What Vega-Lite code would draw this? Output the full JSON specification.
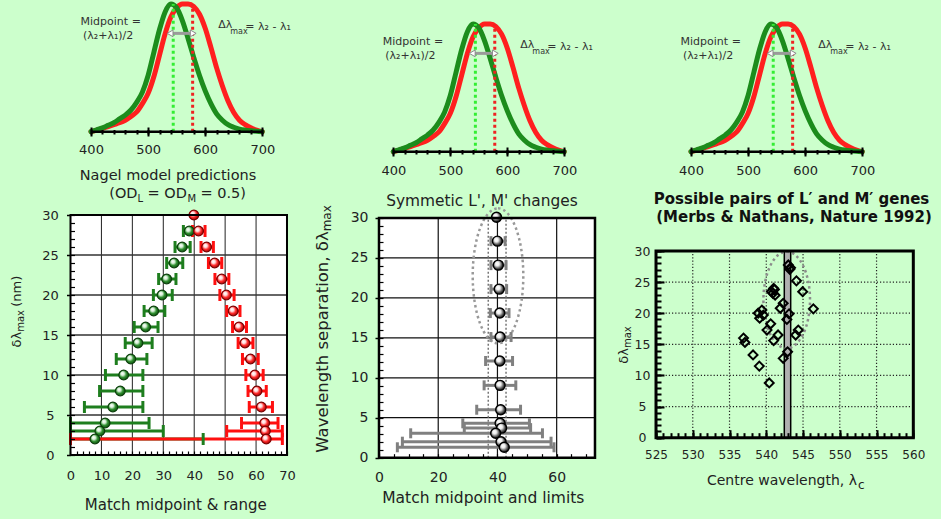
{
"$schema": "https://vega.github.io/schema/vega-lite/v6.json",
"width": 941, "height": 519, "autosize": "none", "padding": 0,
"background": "#ccffcc",
"config": {"view": {"stroke": null}, "font": "DejaVu Sans", "axis": {"domain": false, "grid": false, "labelColor": "#222222", "tickColor": "#000000", "labelFont": "DejaVu Sans"}},
"datasets": {
"one": [{}],
"spectra": [
{"nm":400,"M":0,"L":0},{"nm":410,"M":0.015,"L":0.012},{"nm":420,"M":0.03,"L":0.025},{"nm":430,"M":0.05,"L":0.04},{"nm":440,"M":0.07,"L":0.055},{"nm":450,"M":0.1,"L":0.07},{"nm":460,"M":0.13,"L":0.09},{"nm":470,"M":0.17,"L":0.12},{"nm":480,"M":0.23,"L":0.155},{"nm":490,"M":0.31,"L":0.22},{"nm":500,"M":0.44,"L":0.3},{"nm":510,"M":0.62,"L":0.43},{"nm":520,"M":0.8,"L":0.6},{"nm":530,"M":0.94,"L":0.77},{"nm":540,"M":1.0,"L":0.9},{"nm":550,"M":0.97,"L":0.97},{"nm":560,"M":0.87,"L":1.0},{"nm":570,"M":0.73,"L":1.0},{"nm":580,"M":0.58,"L":0.98},{"nm":590,"M":0.44,"L":0.92},{"nm":600,"M":0.32,"L":0.81},{"nm":610,"M":0.22,"L":0.66},{"nm":620,"M":0.14,"L":0.5},{"nm":630,"M":0.09,"L":0.36},{"nm":640,"M":0.055,"L":0.24},{"nm":650,"M":0.035,"L":0.15},{"nm":660,"M":0.02,"L":0.09},{"nm":670,"M":0.012,"L":0.055},{"nm":680,"M":0.007,"L":0.03},{"nm":690,"M":0.003,"L":0.012},{"nm":700,"M":0,"L":0}],
"blGreen": [
{"d":28,"mid":38.4,"lo":36.5,"hi":39.5},{"d":26,"mid":36.1,"lo":33.8,"hi":38.7},{"d":24,"mid":33.5,"lo":31.1,"hi":36.3},{"d":22,"mid":31.1,"lo":28.5,"hi":34.1},{"d":20,"mid":29.6,"lo":26.8,"hi":32.9},{"d":18,"mid":26.9,"lo":23.8,"hi":30.5},{"d":16,"mid":24.3,"lo":20.6,"hi":28.3},{"d":14,"mid":21.8,"lo":17.7,"hi":26.4},{"d":12,"mid":19.5,"lo":14.8,"hi":24.7},{"d":10,"mid":17.2,"lo":11.3,"hi":23.4},{"d":8,"mid":16.1,"lo":9.4,"hi":23.4},{"d":6,"mid":13.7,"lo":4.5,"hi":23.4},{"d":4,"mid":11.2,"lo":0,"hi":25.4},{"d":3,"mid":9.5,"lo":0,"hi":30.0},{"d":2,"mid":7.9,"lo":0,"hi":42.9}],
"blRed": [
{"d":30,"mid":39.9,"lo":null,"hi":null},{"d":28,"mid":41.4,"lo":39.5,"hi":43.5},{"d":26,"mid":44.0,"lo":42.2,"hi":46.2},{"d":24,"mid":46.6,"lo":44.6,"hi":48.9},{"d":22,"mid":48.9,"lo":46.7,"hi":51.2},{"d":20,"mid":50.4,"lo":48.3,"hi":52.9},{"d":18,"mid":52.6,"lo":50.5,"hi":54.8},{"d":16,"mid":54.5,"lo":52.4,"hi":56.9},{"d":14,"mid":56.4,"lo":54.2,"hi":59.0},{"d":12,"mid":58.2,"lo":55.6,"hi":60.7},{"d":10,"mid":59.6,"lo":56.7,"hi":62.3},{"d":8,"mid":60.3,"lo":57.4,"hi":63.3},{"d":6,"mid":61.7,"lo":57.8,"hi":65.3},{"d":4,"mid":62.8,"lo":55.3,"hi":67.1},{"d":3,"mid":63.0,"lo":50.5,"hi":68.5},{"d":2,"mid":63.3,"lo":0,"hi":68.5}],
"bm": [
{"d":30.1,"mid":39.7,"lo":null,"hi":null},{"d":27.1,"mid":40.0,"lo":37.8,"hi":42.6},{"d":24.1,"mid":40.3,"lo":37.8,"hi":42.9},{"d":21.1,"mid":40.6,"lo":37.8,"hi":43.1},{"d":18.1,"mid":40.8,"lo":37.6,"hi":43.9},{"d":15.1,"mid":40.9,"lo":37.8,"hi":44.6},{"d":12.1,"mid":40.8,"lo":36.0,"hi":45.1},{"d":9.05,"mid":40.9,"lo":35.5,"hi":46.2},{"d":6.0,"mid":41.1,"lo":33.0,"hi":47.8},{"d":4.3,"mid":40.9,"lo":28.3,"hi":50.8},{"d":3.7,"mid":41.4,"lo":28.8,"hi":51.2},{"d":3.05,"mid":39.4,"lo":10.7,"hi":55.2},{"d":2.0,"mid":41.2,"lo":7.9,"hi":58.1},{"d":1.3,"mid":42.3,"lo":6.2,"hi":59.1}],
"br": [
{"c":543.0,"s":27.75},{"c":543.2,"s":27.05},{"c":543.3,"s":27.3},{"c":544.1,"s":25.2},{"c":544.95,"s":23.46},{"c":546.4,"s":20.7},{"c":541.0,"s":24.0},{"c":541.1,"s":23.8},{"c":540.7,"s":23.5},{"c":541.2,"s":22.9},{"c":540.9,"s":23.2},{"c":542.3,"s":21.6},{"c":541.9,"s":20.8},{"c":543.1,"s":19.9},{"c":542.8,"s":19.0},{"c":539.4,"s":20.5},{"c":538.9,"s":20.0},{"c":539.6,"s":19.7},{"c":539.1,"s":19.2},{"c":540.6,"s":18.3},{"c":540.1,"s":17.3},{"c":541.6,"s":16.5},{"c":541.0,"s":15.6},{"c":544.35,"s":17.3},{"c":544.0,"s":16.5},{"c":536.9,"s":16.0},{"c":537.1,"s":15.3},{"c":538.2,"s":13.3},{"c":539.05,"s":11.5},{"c":540.4,"s":8.8},{"c":542.9,"s":13.8},{"c":542.3,"s":12.75}]
},
"layer": [
{
"layer": [
{"data": {"name": "spectra"}, "mark": {"type": "line", "color": "#ff1f1f", "strokeWidth": 5, "interpolate": "monotone", "strokeCap": "round"},
 "encoding": {"x": {"field": "nm", "type": "quantitative", "scale": {"domain": [240.63, 1888.6]}, "axis": null}, "y": {"field": "L", "type": "quantitative", "scale": {"domain": [-3.0329, 1.0313]}, "axis": null}}},
{"data": {"name": "spectra"}, "mark": {"type": "line", "color": "#1c8c1c", "strokeWidth": 5, "interpolate": "monotone", "strokeCap": "round"},
 "encoding": {"x": {"field": "nm", "type": "quantitative", "scale": {"domain": [240.63, 1888.6]}, "axis": {"orient": "bottom", "offset": -389.5, "values": [400,420,440,460,480,500,520,540,560,580,600,620,640,660,680,700], "tickSize": 4.5, "tickWidth": 2, "labels": false, "title": null, "zindex": 1}}, "y": {"field": "M", "type": "quantitative", "scale": {"domain": [-3.0329, 1.0313]}, "axis": null}}},
{"data": {"name": "one"}, "mark": {"type": "rule", "color": "#33ee33", "strokeWidth": 3, "strokeDash": [3, 3]},
 "encoding": {"x": {"datum": 544, "type": "quantitative", "scale": {"domain": [240.63, 1888.6]}, "axis": null}, "y": {"datum": 0, "type": "quantitative", "scale": {"domain": [-3.0329, 1.0313]}, "axis": null}, "y2": {"datum": 1}}},
{"data": {"name": "one"}, "mark": {"type": "rule", "color": "#ee2222", "strokeWidth": 3, "strokeDash": [3, 3]},
 "encoding": {"x": {"datum": 578, "type": "quantitative", "scale": {"domain": [240.63, 1888.6]}, "axis": null}, "y": {"datum": 0, "type": "quantitative", "scale": {"domain": [-3.0329, 1.0313]}, "axis": null}, "y2": {"datum": 1}}},
{"data": {"name": "one"}, "mark": {"type": "rule", "color": "#9a9a9a", "strokeWidth": 3},
 "encoding": {"x": {"datum": 540, "type": "quantitative", "scale": {"domain": [240.63, 1888.6]}, "axis": null}, "x2": {"datum": 576}, "y": {"datum": 0.77, "type": "quantitative", "scale": {"domain": [-3.0329, 1.0313]}, "axis": null}}},
{"data": {"name": "one"}, "mark": {"type": "point", "shape": "triangle-left", "filled": true, "fill": "#ffffff", "stroke": "#8a8a8a", "strokeWidth": 1, "size": 45, "opacity": 1},
 "encoding": {"x": {"datum": 538.5, "type": "quantitative", "scale": {"domain": [240.63, 1888.6]}, "axis": null}, "y": {"datum": 0.77, "type": "quantitative", "scale": {"domain": [-3.0329, 1.0313]}, "axis": null}}},
{"data": {"name": "one"}, "mark": {"type": "point", "shape": "triangle-right", "filled": true, "fill": "#ffffff", "stroke": "#8a8a8a", "strokeWidth": 1, "size": 45, "opacity": 1},
 "encoding": {"x": {"datum": 579, "type": "quantitative", "scale": {"domain": [240.63, 1888.6]}, "axis": null}, "y": {"datum": 0.77, "type": "quantitative", "scale": {"domain": [-3.0329, 1.0313]}, "axis": null}}},
{"data": {"name": "one"}, "mark": {"type": "rule", "color": "#000000", "strokeWidth": 2.5},
 "encoding": {"x": {"datum": 400, "type": "quantitative", "scale": {"domain": [240.63, 1888.6]}, "axis": {"orient": "bottom", "offset": -392, "values": [400,500,600,700], "tickSize": 9, "tickWidth": 2, "labelPadding": 13, "labelBaseline": "middle", "labelFontSize": 13, "title": null, "zindex": 1}}, "x2": {"datum": 700}, "y": {"datum": 0, "type": "quantitative", "scale": {"domain": [-3.0329, 1.0313]}, "axis": null}}},
{"data": {"name": "one"}, "mark": {"type": "text", "text": "Midpoint =", "fontSize": 11, "color": "#333333", "align": "center", "baseline": "middle"},
 "encoding": {"x": {"datum": 434.5, "type": "quantitative", "scale": {"domain": [240.63, 1888.6]}, "axis": null}, "y": {"datum": 0.857, "type": "quantitative", "scale": {"domain": [-3.0329, 1.0313]}, "axis": null}}},
{"data": {"name": "one"}, "mark": {"type": "text", "text": "(λ₂+λ₁)/2", "fontSize": 11, "color": "#333333", "align": "center", "baseline": "middle"},
 "encoding": {"x": {"datum": 430, "type": "quantitative", "scale": {"domain": [240.63, 1888.6]}, "axis": null}, "y": {"datum": 0.753, "type": "quantitative", "scale": {"domain": [-3.0329, 1.0313]}, "axis": null}}},
{"data": {"name": "one"}, "mark": {"type": "text", "text": "Δλ", "fontSize": 11, "color": "#333333", "align": "right", "baseline": "middle", "dy": -1},
 "encoding": {"x": {"datum": 647.5, "type": "quantitative", "scale": {"domain": [240.63, 1888.6]}, "axis": null}, "y": {"datum": 0.828, "type": "quantitative", "scale": {"domain": [-3.0329, 1.0313]}, "axis": null}}},
{"data": {"name": "one"}, "mark": {"type": "text", "text": "max", "fontSize": 8, "color": "#333333", "align": "left", "baseline": "middle", "dx": -2, "dy": 6},
 "encoding": {"x": {"datum": 647.5, "type": "quantitative", "scale": {"domain": [240.63, 1888.6]}, "axis": null}, "y": {"datum": 0.828, "type": "quantitative", "scale": {"domain": [-3.0329, 1.0313]}, "axis": null}}},
{"data": {"name": "one"}, "mark": {"type": "text", "text": "= λ₂ - λ₁", "fontSize": 11, "color": "#333333", "align": "left", "baseline": "middle", "dx": 13, "dy": 1},
 "encoding": {"x": {"datum": 647.5, "type": "quantitative", "scale": {"domain": [240.63, 1888.6]}, "axis": null}, "y": {"datum": 0.828, "type": "quantitative", "scale": {"domain": [-3.0329, 1.0313]}, "axis": null}}}
],
"resolve": {"axis": {"x": "independent", "y": "independent"}}
},
{
"layer": [
{"data": {"name": "spectra"}, "mark": {"type": "line", "color": "#ff1f1f", "strokeWidth": 5, "interpolate": "monotone", "strokeCap": "round"},
 "encoding": {"x": {"field": "nm", "type": "quantitative", "scale": {"domain": [-290.0, 1360.88]}, "axis": null}, "y": {"field": "L", "type": "quantitative", "scale": {"domain": [-2.8763, 1.1879]}, "axis": null}}},
{"data": {"name": "spectra"}, "mark": {"type": "line", "color": "#1c8c1c", "strokeWidth": 5, "interpolate": "monotone", "strokeCap": "round"},
 "encoding": {"x": {"field": "nm", "type": "quantitative", "scale": {"domain": [-290.0, 1360.88]}, "axis": {"orient": "bottom", "offset": -369.5, "values": [400,420,440,460,480,500,520,540,560,580,600,620,640,660,680,700], "tickSize": 4.5, "tickWidth": 2, "labels": false, "title": null, "zindex": 1}}, "y": {"field": "M", "type": "quantitative", "scale": {"domain": [-2.8763, 1.1879]}, "axis": null}}},
{"data": {"name": "one"}, "mark": {"type": "rule", "color": "#33ee33", "strokeWidth": 3, "strokeDash": [3, 3]},
 "encoding": {"x": {"datum": 544, "type": "quantitative", "scale": {"domain": [-290.0, 1360.88]}, "axis": null}, "y": {"datum": 0, "type": "quantitative", "scale": {"domain": [-2.8763, 1.1879]}, "axis": null}, "y2": {"datum": 1}}},
{"data": {"name": "one"}, "mark": {"type": "rule", "color": "#ee2222", "strokeWidth": 3, "strokeDash": [3, 3]},
 "encoding": {"x": {"datum": 578, "type": "quantitative", "scale": {"domain": [-290.0, 1360.88]}, "axis": null}, "y": {"datum": 0, "type": "quantitative", "scale": {"domain": [-2.8763, 1.1879]}, "axis": null}, "y2": {"datum": 1}}},
{"data": {"name": "one"}, "mark": {"type": "rule", "color": "#9a9a9a", "strokeWidth": 3},
 "encoding": {"x": {"datum": 540, "type": "quantitative", "scale": {"domain": [-290.0, 1360.88]}, "axis": null}, "x2": {"datum": 576}, "y": {"datum": 0.77, "type": "quantitative", "scale": {"domain": [-2.8763, 1.1879]}, "axis": null}}},
{"data": {"name": "one"}, "mark": {"type": "point", "shape": "triangle-left", "filled": true, "fill": "#ffffff", "stroke": "#8a8a8a", "strokeWidth": 1, "size": 45, "opacity": 1},
 "encoding": {"x": {"datum": 538.5, "type": "quantitative", "scale": {"domain": [-290.0, 1360.88]}, "axis": null}, "y": {"datum": 0.77, "type": "quantitative", "scale": {"domain": [-2.8763, 1.1879]}, "axis": null}}},
{"data": {"name": "one"}, "mark": {"type": "point", "shape": "triangle-right", "filled": true, "fill": "#ffffff", "stroke": "#8a8a8a", "strokeWidth": 1, "size": 45, "opacity": 1},
 "encoding": {"x": {"datum": 579, "type": "quantitative", "scale": {"domain": [-290.0, 1360.88]}, "axis": null}, "y": {"datum": 0.77, "type": "quantitative", "scale": {"domain": [-2.8763, 1.1879]}, "axis": null}}},
{"data": {"name": "one"}, "mark": {"type": "rule", "color": "#000000", "strokeWidth": 2.5},
 "encoding": {"x": {"datum": 400, "type": "quantitative", "scale": {"domain": [-290.0, 1360.88]}, "axis": {"orient": "bottom", "offset": -372, "values": [400,500,600,700], "tickSize": 9, "tickWidth": 2, "labelPadding": 14, "labelBaseline": "middle", "labelFontSize": 13, "title": null, "zindex": 1}}, "x2": {"datum": 700}, "y": {"datum": 0, "type": "quantitative", "scale": {"domain": [-2.8763, 1.1879]}, "axis": null}}},
{"data": {"name": "one"}, "mark": {"type": "text", "text": "Midpoint =", "fontSize": 11, "color": "#333333", "align": "center", "baseline": "middle"},
 "encoding": {"x": {"datum": 434.5, "type": "quantitative", "scale": {"domain": [-290.0, 1360.88]}, "axis": null}, "y": {"datum": 0.857, "type": "quantitative", "scale": {"domain": [-2.8763, 1.1879]}, "axis": null}}},
{"data": {"name": "one"}, "mark": {"type": "text", "text": "(λ₂+λ₁)/2", "fontSize": 11, "color": "#333333", "align": "center", "baseline": "middle"},
 "encoding": {"x": {"datum": 430, "type": "quantitative", "scale": {"domain": [-290.0, 1360.88]}, "axis": null}, "y": {"datum": 0.753, "type": "quantitative", "scale": {"domain": [-2.8763, 1.1879]}, "axis": null}}},
{"data": {"name": "one"}, "mark": {"type": "text", "text": "Δλ", "fontSize": 11, "color": "#333333", "align": "right", "baseline": "middle", "dy": -1},
 "encoding": {"x": {"datum": 647.5, "type": "quantitative", "scale": {"domain": [-290.0, 1360.88]}, "axis": null}, "y": {"datum": 0.828, "type": "quantitative", "scale": {"domain": [-2.8763, 1.1879]}, "axis": null}}},
{"data": {"name": "one"}, "mark": {"type": "text", "text": "max", "fontSize": 8, "color": "#333333", "align": "left", "baseline": "middle", "dx": -2, "dy": 6},
 "encoding": {"x": {"datum": 647.5, "type": "quantitative", "scale": {"domain": [-290.0, 1360.88]}, "axis": null}, "y": {"datum": 0.828, "type": "quantitative", "scale": {"domain": [-2.8763, 1.1879]}, "axis": null}}},
{"data": {"name": "one"}, "mark": {"type": "text", "text": "= λ₂ - λ₁", "fontSize": 11, "color": "#333333", "align": "left", "baseline": "middle", "dx": 13, "dy": 1},
 "encoding": {"x": {"datum": 647.5, "type": "quantitative", "scale": {"domain": [-290.0, 1360.88]}, "axis": null}, "y": {"datum": 0.828, "type": "quantitative", "scale": {"domain": [-2.8763, 1.1879]}, "axis": null}}}
],
"resolve": {"axis": {"x": "independent", "y": "independent"}}
},
{
"layer": [
{"data": {"name": "spectra"}, "mark": {"type": "line", "color": "#ff1f1f", "strokeWidth": 5, "interpolate": "monotone", "strokeCap": "round"},
 "encoding": {"x": {"field": "nm", "type": "quantitative", "scale": {"domain": [-810.16, 837.82]}, "axis": null}, "y": {"field": "L", "type": "quantitative", "scale": {"domain": [-2.8763, 1.1879]}, "axis": null}}},
{"data": {"name": "spectra"}, "mark": {"type": "line", "color": "#1c8c1c", "strokeWidth": 5, "interpolate": "monotone", "strokeCap": "round"},
 "encoding": {"x": {"field": "nm", "type": "quantitative", "scale": {"domain": [-810.16, 837.82]}, "axis": {"orient": "bottom", "offset": -369.5, "values": [400,420,440,460,480,500,520,540,560,580,600,620,640,660,680,700], "tickSize": 4.5, "tickWidth": 2, "labels": false, "title": null, "zindex": 1}}, "y": {"field": "M", "type": "quantitative", "scale": {"domain": [-2.8763, 1.1879]}, "axis": null}}},
{"data": {"name": "one"}, "mark": {"type": "rule", "color": "#33ee33", "strokeWidth": 3, "strokeDash": [3, 3]},
 "encoding": {"x": {"datum": 544, "type": "quantitative", "scale": {"domain": [-810.16, 837.82]}, "axis": null}, "y": {"datum": 0, "type": "quantitative", "scale": {"domain": [-2.8763, 1.1879]}, "axis": null}, "y2": {"datum": 1}}},
{"data": {"name": "one"}, "mark": {"type": "rule", "color": "#ee2222", "strokeWidth": 3, "strokeDash": [3, 3]},
 "encoding": {"x": {"datum": 578, "type": "quantitative", "scale": {"domain": [-810.16, 837.82]}, "axis": null}, "y": {"datum": 0, "type": "quantitative", "scale": {"domain": [-2.8763, 1.1879]}, "axis": null}, "y2": {"datum": 1}}},
{"data": {"name": "one"}, "mark": {"type": "rule", "color": "#9a9a9a", "strokeWidth": 3},
 "encoding": {"x": {"datum": 540, "type": "quantitative", "scale": {"domain": [-810.16, 837.82]}, "axis": null}, "x2": {"datum": 576}, "y": {"datum": 0.77, "type": "quantitative", "scale": {"domain": [-2.8763, 1.1879]}, "axis": null}}},
{"data": {"name": "one"}, "mark": {"type": "point", "shape": "triangle-left", "filled": true, "fill": "#ffffff", "stroke": "#8a8a8a", "strokeWidth": 1, "size": 45, "opacity": 1},
 "encoding": {"x": {"datum": 538.5, "type": "quantitative", "scale": {"domain": [-810.16, 837.82]}, "axis": null}, "y": {"datum": 0.77, "type": "quantitative", "scale": {"domain": [-2.8763, 1.1879]}, "axis": null}}},
{"data": {"name": "one"}, "mark": {"type": "point", "shape": "triangle-right", "filled": true, "fill": "#ffffff", "stroke": "#8a8a8a", "strokeWidth": 1, "size": 45, "opacity": 1},
 "encoding": {"x": {"datum": 579, "type": "quantitative", "scale": {"domain": [-810.16, 837.82]}, "axis": null}, "y": {"datum": 0.77, "type": "quantitative", "scale": {"domain": [-2.8763, 1.1879]}, "axis": null}}},
{"data": {"name": "one"}, "mark": {"type": "rule", "color": "#000000", "strokeWidth": 2.5},
 "encoding": {"x": {"datum": 400, "type": "quantitative", "scale": {"domain": [-810.16, 837.82]}, "axis": {"orient": "bottom", "offset": -372, "values": [400,500,600,700], "tickSize": 9, "tickWidth": 2, "labelPadding": 14, "labelBaseline": "middle", "labelFontSize": 13, "title": null, "zindex": 1}}, "x2": {"datum": 700}, "y": {"datum": 0, "type": "quantitative", "scale": {"domain": [-2.8763, 1.1879]}, "axis": null}}},
{"data": {"name": "one"}, "mark": {"type": "text", "text": "Midpoint =", "fontSize": 11, "color": "#333333", "align": "center", "baseline": "middle"},
 "encoding": {"x": {"datum": 434.5, "type": "quantitative", "scale": {"domain": [-810.16, 837.82]}, "axis": null}, "y": {"datum": 0.857, "type": "quantitative", "scale": {"domain": [-2.8763, 1.1879]}, "axis": null}}},
{"data": {"name": "one"}, "mark": {"type": "text", "text": "(λ₂+λ₁)/2", "fontSize": 11, "color": "#333333", "align": "center", "baseline": "middle"},
 "encoding": {"x": {"datum": 430, "type": "quantitative", "scale": {"domain": [-810.16, 837.82]}, "axis": null}, "y": {"datum": 0.753, "type": "quantitative", "scale": {"domain": [-2.8763, 1.1879]}, "axis": null}}},
{"data": {"name": "one"}, "mark": {"type": "text", "text": "Δλ", "fontSize": 11, "color": "#333333", "align": "right", "baseline": "middle", "dy": -1},
 "encoding": {"x": {"datum": 647.5, "type": "quantitative", "scale": {"domain": [-810.16, 837.82]}, "axis": null}, "y": {"datum": 0.828, "type": "quantitative", "scale": {"domain": [-2.8763, 1.1879]}, "axis": null}}},
{"data": {"name": "one"}, "mark": {"type": "text", "text": "max", "fontSize": 8, "color": "#333333", "align": "left", "baseline": "middle", "dx": -2, "dy": 6},
 "encoding": {"x": {"datum": 647.5, "type": "quantitative", "scale": {"domain": [-810.16, 837.82]}, "axis": null}, "y": {"datum": 0.828, "type": "quantitative", "scale": {"domain": [-2.8763, 1.1879]}, "axis": null}}},
{"data": {"name": "one"}, "mark": {"type": "text", "text": "= λ₂ - λ₁", "fontSize": 11, "color": "#333333", "align": "left", "baseline": "middle", "dx": 13, "dy": 1},
 "encoding": {"x": {"datum": 647.5, "type": "quantitative", "scale": {"domain": [-810.16, 837.82]}, "axis": null}, "y": {"datum": 0.828, "type": "quantitative", "scale": {"domain": [-2.8763, 1.1879]}, "axis": null}}}
],
"resolve": {"axis": {"x": "independent", "y": "independent"}}
},
{
"layer": [
{"data": {"name": "one"}, "mark": {"type": "rect", "fill": "#ffffff"},
 "encoding": {"x": {"datum": 0, "type": "quantitative", "scale": {"domain": [-22.794, 281.46]}, "axis": {"orient": "bottom", "offset": -64, "values": [0,10,20,30,40,50,60,70], "ticks": false, "labelPadding": 20, "labelBaseline": "middle", "labelFontSize": 13, "title": null, "zindex": 1}}, "x2": {"datum": 70},
  "y": {"datum": 0, "type": "quantitative", "scale": {"domain": [-8, 56.875]}, "axis": {"orient": "left", "offset": -70.5, "values": [0,5,10,15,20,25,30], "tickSize": 4, "tickWidth": 1.5, "labelPadding": 16.5, "labelAlign": "center", "labelFontSize": 13, "title": null, "zindex": 1}}, "y2": {"datum": 30}}},
{"data": {"values": [{"g":10},{"g":20},{"g":30},{"g":40},{"g":50},{"g":60}]}, "mark": {"type": "rule", "color": "#222222", "strokeWidth": 1},
 "encoding": {"x": {"field": "g", "type": "quantitative", "scale": {"domain": [-22.794, 281.46]}, "axis": {"orient": "bottom", "offset": -68, "values": [0,2,4,6,8,10,12,14,16,18,20,22,24,26,28,30,32,34,36,38,40,42,44,46,48,50,52,54,56,58,60,62,64,66,68,70], "tickSize": 4, "tickWidth": 1.2, "labels": false, "title": null, "zindex": 1}},
  "y": {"datum": 0, "type": "quantitative", "scale": {"domain": [-8, 56.875]}, "axis": null}, "y2": {"datum": 30}}},
{"data": {"values": [{"g":5},{"g":10},{"g":15},{"g":20},{"g":25}]}, "mark": {"type": "rule", "color": "#333333", "strokeWidth": 1.5},
 "encoding": {"y": {"field": "g", "type": "quantitative", "scale": {"domain": [-8, 56.875]}, "axis": {"orient": "left", "offset": -74.5, "values": [0,1,2,3,4,5,6,7,8,9,10,11,12,13,14,15,16,17,18,19,20,21,22,23,24,25,26,27,28,29,30], "tickSize": 4, "tickWidth": 1.2, "labels": false, "title": null, "zindex": 1}},
  "x": {"datum": 0, "type": "quantitative", "scale": {"domain": [-22.794, 281.46]}, "axis": null}, "x2": {"datum": 70}}},
{"data": {"name": "blGreen"}, "mark": {"type": "rule", "color": "#1e7e1e", "strokeWidth": 3},
 "encoding": {"x": {"field": "lo", "type": "quantitative", "scale": {"domain": [-22.794, 281.46]}, "axis": null}, "x2": {"field": "hi"}, "y": {"field": "d", "type": "quantitative", "scale": {"domain": [-8, 56.875]}, "axis": null}}},
{"data": {"name": "blRed"}, "mark": {"type": "rule", "color": "#ff1010", "strokeWidth": 3},
 "encoding": {"x": {"field": "lo", "type": "quantitative", "scale": {"domain": [-22.794, 281.46]}, "axis": null}, "x2": {"field": "hi"}, "y": {"field": "d", "type": "quantitative", "scale": {"domain": [-8, 56.875]}, "axis": null}}},
{"data": {"name": "blGreen"}, "transform": [{"fold": ["lo", "hi"], "as": ["end", "xv"]}], "mark": {"type": "tick", "orient": "vertical", "color": "#1e7e1e", "size": 12, "thickness": 3, "opacity": 1},
 "encoding": {"x": {"field": "xv", "type": "quantitative", "scale": {"domain": [-22.794, 281.46]}, "axis": null}, "y": {"field": "d", "type": "quantitative", "scale": {"domain": [-8, 56.875]}, "axis": null}}},
{"data": {"name": "blRed"}, "transform": [{"fold": ["lo", "hi"], "as": ["end", "xv"]}], "mark": {"type": "tick", "orient": "vertical", "color": "#ff1010", "size": 12, "thickness": 3, "opacity": 1},
 "encoding": {"x": {"field": "xv", "type": "quantitative", "scale": {"domain": [-22.794, 281.46]}, "axis": null}, "y": {"field": "d", "type": "quantitative", "scale": {"domain": [-8, 56.875]}, "axis": null}}},
{"data": {"name": "blGreen"}, "mark": {"type": "point", "filled": true, "opacity": 1, "size": 95, "stroke": "#0c3f0c", "strokeWidth": 1.2,
  "fill": {"gradient": "radial", "x1": 0.35, "y1": 0.32, "r1": 0, "x2": 0.45, "y2": 0.45, "r2": 0.6, "stops": [{"offset": 0, "color": "#ffffff"}, {"offset": 0.3, "color": "#d8efd8"}, {"offset": 0.6, "color": "#2f8f2f"}, {"offset": 1, "color": "#0b4a0b"}]}},
 "encoding": {"x": {"field": "mid", "type": "quantitative", "scale": {"domain": [-22.794, 281.46]}, "axis": null}, "y": {"field": "d", "type": "quantitative", "scale": {"domain": [-8, 56.875]}, "axis": null}}},
{"data": {"name": "blRed"}, "mark": {"type": "point", "filled": true, "opacity": 1, "size": 95, "stroke": "#7a0000", "strokeWidth": 1.2,
  "fill": {"gradient": "radial", "x1": 0.35, "y1": 0.32, "r1": 0, "x2": 0.45, "y2": 0.45, "r2": 0.6, "stops": [{"offset": 0, "color": "#ffffff"}, {"offset": 0.3, "color": "#ffe0e0"}, {"offset": 0.6, "color": "#ff2a2a"}, {"offset": 1, "color": "#900000"}]}},
 "encoding": {"x": {"field": "mid", "type": "quantitative", "scale": {"domain": [-22.794, 281.46]}, "axis": null}, "y": {"field": "d", "type": "quantitative", "scale": {"domain": [-8, 56.875]}, "axis": null}}},
{"data": {"name": "one"}, "mark": {"type": "rect", "fillOpacity": 0, "stroke": "#000000", "strokeWidth": 2},
 "encoding": {"x": {"datum": 0, "type": "quantitative", "scale": {"domain": [-22.794, 281.46]}, "axis": null}, "x2": {"datum": 70}, "y": {"datum": 0, "type": "quantitative", "scale": {"domain": [-8, 56.875]}, "axis": null}, "y2": {"datum": 30}}},
{"data": {"name": "one"}, "mark": {"type": "text", "text": "Nagel model predictions", "fontSize": 14.5, "color": "#222222", "align": "center", "baseline": "middle"},
 "encoding": {"x": {"datum": 31.52, "type": "quantitative", "scale": {"domain": [-22.794, 281.46]}, "axis": null}, "y": {"datum": 34.875, "type": "quantitative", "scale": {"domain": [-8, 56.875]}, "axis": null}}},
{"data": {"name": "one"}, "mark": {"type": "text", "text": "(OD", "fontSize": 14.5, "color": "#222222", "align": "right", "baseline": "middle"},
 "encoding": {"x": {"datum": 21.66, "type": "quantitative", "scale": {"domain": [-22.794, 281.46]}, "axis": null}, "y": {"datum": 32.65, "type": "quantitative", "scale": {"domain": [-8, 56.875]}, "axis": null}}},
{"data": {"name": "one"}, "mark": {"type": "text", "text": "L", "fontSize": 10, "color": "#222222", "align": "left", "baseline": "middle", "dy": 5},
 "encoding": {"x": {"datum": 21.66, "type": "quantitative", "scale": {"domain": [-22.794, 281.46]}, "axis": null}, "y": {"datum": 32.65, "type": "quantitative", "scale": {"domain": [-8, 56.875]}, "axis": null}}},
{"data": {"name": "one"}, "mark": {"type": "text", "text": "= OD", "fontSize": 14.5, "color": "#222222", "align": "left", "baseline": "middle", "dx": 10},
 "encoding": {"x": {"datum": 21.66, "type": "quantitative", "scale": {"domain": [-22.794, 281.46]}, "axis": null}, "y": {"datum": 32.65, "type": "quantitative", "scale": {"domain": [-8, 56.875]}, "axis": null}}},
{"data": {"name": "one"}, "mark": {"type": "text", "text": "M", "fontSize": 10, "color": "#222222", "align": "left", "baseline": "middle", "dx": 50, "dy": 5},
 "encoding": {"x": {"datum": 21.66, "type": "quantitative", "scale": {"domain": [-22.794, 281.46]}, "axis": null}, "y": {"datum": 32.65, "type": "quantitative", "scale": {"domain": [-8, 56.875]}, "axis": null}}},
{"data": {"name": "one"}, "mark": {"type": "text", "text": "= 0.5)", "fontSize": 14.5, "color": "#222222", "align": "left", "baseline": "middle", "dx": 63},
 "encoding": {"x": {"datum": 21.66, "type": "quantitative", "scale": {"domain": [-22.794, 281.46]}, "axis": null}, "y": {"datum": 32.65, "type": "quantitative", "scale": {"domain": [-8, 56.875]}, "axis": null}}},
{"data": {"name": "one"}, "mark": {"type": "text", "text": "Match midpoint & range", "fontSize": 15, "color": "#222222", "align": "center", "baseline": "middle"},
 "encoding": {"x": {"datum": 34.05, "type": "quantitative", "scale": {"domain": [-22.794, 281.46]}, "axis": null}, "y": {"datum": -6.25, "type": "quantitative", "scale": {"domain": [-8, 56.875]}, "axis": null}}},
{"data": {"name": "one"}, "mark": {"type": "text", "text": "δλ", "fontSize": 13, "color": "#222222", "align": "right", "baseline": "middle", "angle": 270},
 "encoding": {"x": {"datum": -17.2, "type": "quantitative", "scale": {"domain": [-22.794, 281.46]}, "axis": null}, "y": {"datum": 15.4, "type": "quantitative", "scale": {"domain": [-8, 56.875]}, "axis": null}}},
{"data": {"name": "one"}, "mark": {"type": "text", "text": "max", "fontSize": 10, "color": "#222222", "align": "left", "baseline": "middle", "angle": 270, "dy": 4},
 "encoding": {"x": {"datum": -17.2, "type": "quantitative", "scale": {"domain": [-22.794, 281.46]}, "axis": null}, "y": {"datum": 15.4, "type": "quantitative", "scale": {"domain": [-8, 56.875]}, "axis": null}}},
{"data": {"name": "one"}, "mark": {"type": "text", "text": "(nm)", "fontSize": 13, "color": "#222222", "align": "left", "baseline": "middle", "angle": 270, "dx": 25},
 "encoding": {"x": {"datum": -17.2, "type": "quantitative", "scale": {"domain": [-22.794, 281.46]}, "axis": null}, "y": {"datum": 15.4, "type": "quantitative", "scale": {"domain": [-8, 56.875]}, "axis": null}}}
],
"resolve": {"axis": {"x": "independent", "y": "independent"}}
},
{
"layer": [
{"data": {"name": "one"}, "mark": {"type": "rect", "fill": "#ffffff"},
 "encoding": {"x": {"datum": 0, "type": "quantitative", "scale": {"domain": [-127.99, 189.79]}, "axis": {"orient": "bottom", "offset": -61.33, "values": [0,20,40,60], "ticks": false, "labelPadding": 20, "labelBaseline": "middle", "labelFontSize": 14, "title": null, "zindex": 1}}, "x2": {"datum": 72.94},
  "y": {"datum": 0, "type": "quantitative", "scale": {"domain": [-7.677, 57.287]}, "axis": {"orient": "left", "offset": -379, "values": [0,5,10,15,20,25,30], "tickSize": 4, "tickWidth": 1.5, "labelPadding": 7, "labelAlign": "right", "labelFontSize": 14, "title": null, "zindex": 1}}, "y2": {"datum": 30}}},
{"data": {"values": [{"g":20},{"g":40},{"g":60}]}, "mark": {"type": "rule", "color": "#111111", "strokeWidth": 1.2},
 "encoding": {"x": {"field": "g", "type": "quantitative", "scale": {"domain": [-127.99, 189.79]}, "axis": {"orient": "bottom", "offset": -65.33, "values": [0,5,10,15,20,25,30,35,40,45,50,55,60,65,70], "tickSize": 4, "tickWidth": 1.2, "labels": false, "title": null, "zindex": 1}},
  "y": {"datum": 0, "type": "quantitative", "scale": {"domain": [-7.677, 57.287]}, "axis": null}, "y2": {"datum": 30}}},
{"data": {"values": [{"g":5},{"g":10},{"g":15},{"g":20},{"g":25}]}, "mark": {"type": "rule", "color": "#111111", "strokeWidth": 1.2},
 "encoding": {"y": {"field": "g", "type": "quantitative", "scale": {"domain": [-7.677, 57.287]}, "axis": {"orient": "left", "offset": -383, "values": [0,1,2,3,4,5,6,7,8,9,10,11,12,13,14,15,16,17,18,19,20,21,22,23,24,25,26,27,28,29,30], "tickSize": 4, "tickWidth": 1.2, "labels": false, "title": null, "zindex": 1}},
  "x": {"datum": 0, "type": "quantitative", "scale": {"domain": [-127.99, 189.79]}, "axis": null}, "x2": {"datum": 72.94}}},
{"data": {"values": [{"v":36.9},{"v":42.9}]}, "mark": {"type": "rule", "color": "#777777", "strokeWidth": 1.5, "strokeDash": [2, 2]},
 "encoding": {"x": {"field": "v", "type": "quantitative", "scale": {"domain": [-127.99, 189.79]}, "axis": null}, "y": {"datum": 0, "type": "quantitative", "scale": {"domain": [-7.677, 57.287]}, "axis": null}, "y2": {"datum": 30}}},
{"data": {"name": "bm"}, "mark": {"type": "rule", "color": "#808080", "strokeWidth": 3},
 "encoding": {"x": {"field": "lo", "type": "quantitative", "scale": {"domain": [-127.99, 189.79]}, "axis": null}, "x2": {"field": "hi"}, "y": {"field": "d", "type": "quantitative", "scale": {"domain": [-7.677, 57.287]}, "axis": null}}},
{"data": {"name": "bm"}, "transform": [{"fold": ["lo", "hi"], "as": ["end", "xv"]}], "mark": {"type": "tick", "orient": "vertical", "color": "#808080", "size": 10, "thickness": 3, "opacity": 1},
 "encoding": {"x": {"field": "xv", "type": "quantitative", "scale": {"domain": [-127.99, 189.79]}, "axis": null}, "y": {"field": "d", "type": "quantitative", "scale": {"domain": [-7.677, 57.287]}, "axis": null}}},
{"data": {"name": "bm"}, "mark": {"type": "point", "filled": true, "opacity": 1, "size": 100, "stroke": "#000000", "strokeWidth": 1.4,
  "fill": {"gradient": "radial", "x1": 0.35, "y1": 0.32, "r1": 0, "x2": 0.45, "y2": 0.45, "r2": 0.6, "stops": [{"offset": 0, "color": "#ffffff"}, {"offset": 0.35, "color": "#f0f0f0"}, {"offset": 0.7, "color": "#555555"}, {"offset": 1, "color": "#000000"}]}},
 "encoding": {"x": {"field": "mid", "type": "quantitative", "scale": {"domain": [-127.99, 189.79]}, "axis": null}, "y": {"field": "d", "type": "quantitative", "scale": {"domain": [-7.677, 57.287]}, "axis": null}}},
{"data": {"name": "one"}, "mark": {"type": "point", "filled": false, "opacity": 1, "stroke": "#999999", "strokeWidth": 2.5, "strokeDash": [2.5, 3], "size": 18225,
  "shape": "M 0 -1 C 0.207 -1 0.3748 -0.5523 0.3748 0 C 0.3748 0.5523 0.207 1 0 1 C -0.207 1 -0.3748 0.5523 -0.3748 0 C -0.3748 -0.5523 -0.207 -1 0 -1 Z"},
 "encoding": {"x": {"datum": 40.19, "type": "quantitative", "scale": {"domain": [-127.99, 189.79]}, "axis": null}, "y": {"datum": 22.76, "type": "quantitative", "scale": {"domain": [-7.677, 57.287]}, "axis": null}}},
{"data": {"name": "one"}, "mark": {"type": "rect", "fillOpacity": 0, "stroke": "#000000", "strokeWidth": 2.5},
 "encoding": {"x": {"datum": 0, "type": "quantitative", "scale": {"domain": [-127.99, 189.79]}, "axis": null}, "x2": {"datum": 72.94}, "y": {"datum": 0, "type": "quantitative", "scale": {"domain": [-7.677, 57.287]}, "axis": null}, "y2": {"datum": 30}}},
{"data": {"name": "one"}, "mark": {"type": "text", "text": "Symmetic L', M' changes", "fontSize": 15.4, "color": "#222222", "align": "center", "baseline": "middle"},
 "encoding": {"x": {"datum": 34.78, "type": "quantitative", "scale": {"domain": [-127.99, 189.79]}, "axis": null}, "y": {"datum": 32.19, "type": "quantitative", "scale": {"domain": [-7.677, 57.287]}, "axis": null}}},
{"data": {"name": "one"}, "mark": {"type": "text", "text": "Match midpoint and limits", "fontSize": 15.5, "color": "#222222", "align": "center", "baseline": "middle"},
 "encoding": {"x": {"datum": 35.22, "type": "quantitative", "scale": {"domain": [-127.99, 189.79]}, "axis": null}, "y": {"datum": -5.06, "type": "quantitative", "scale": {"domain": [-7.677, 57.287]}, "axis": null}}},
{"data": {"name": "one"}, "mark": {"type": "text", "text": "Wavelength separation,  δλ", "fontSize": 16.5, "color": "#222222", "align": "right", "baseline": "middle", "angle": 270},
 "encoding": {"x": {"datum": -18.9, "type": "quantitative", "scale": {"domain": [-127.99, 189.79]}, "axis": null}, "y": {"datum": 28.33, "type": "quantitative", "scale": {"domain": [-7.677, 57.287]}, "axis": null}}},
{"data": {"name": "one"}, "mark": {"type": "text", "text": "max", "fontSize": 12, "color": "#222222", "align": "left", "baseline": "middle", "angle": 270, "dy": 4},
 "encoding": {"x": {"datum": -18.9, "type": "quantitative", "scale": {"domain": [-127.99, 189.79]}, "axis": null}, "y": {"datum": 28.33, "type": "quantitative", "scale": {"domain": [-7.677, 57.287]}, "axis": null}}}
],
"resolve": {"axis": {"x": "independent", "y": "independent"}}
},
{
"layer": [
{"data": {"values": [{"g":530},{"g":535},{"g":540},{"g":545},{"g":550},{"g":555}]}, "mark": {"type": "rule", "color": "#222222", "strokeWidth": 1.2, "strokeDash": [1.2, 2]},
 "encoding": {"x": {"field": "g", "type": "quantitative", "scale": {"domain": [435.766, 563.766]}, "axis": {"orient": "bottom", "offset": -86.33, "values": [525,526,527,528,529,530,531,532,533,534,535,536,537,538,539,540,541,542,543,544,545,546,547,548,549,550,551,552,553,554,555,556,557,558,559,560], "tickSize": 5, "tickWidth": 2, "labels": false, "title": null, "zindex": 1}},
  "y": {"datum": 0, "type": "quantitative", "scale": {"domain": [-13.071, 70.339]}, "axis": null}, "y2": {"datum": 30}}},
{"data": {"values": [{"g":5},{"g":10},{"g":15},{"g":20},{"g":25}]}, "mark": {"type": "rule", "color": "#222222", "strokeWidth": 1.2, "strokeDash": [1.2, 2]},
 "encoding": {"y": {"field": "g", "type": "quantitative", "scale": {"domain": [-13.071, 70.339]}, "axis": {"orient": "left", "offset": -661, "values": [0,1,2,3,4,5,6,7,8,9,10,11,12,13,14,15,16,17,18,19,20,21,22,23,24,25,26,27,28,29,30], "tickSize": 5, "tickWidth": 2, "labels": false, "title": null, "zindex": 1}},
  "x": {"datum": 525, "type": "quantitative", "scale": {"domain": [435.766, 563.766]}, "axis": null}, "x2": {"datum": 560}}},
{"data": {"values": [{"lo": 542.45, "hi": 543.32}]}, "mark": {"type": "rect", "fill": "#b0b0b0", "stroke": "#000000", "strokeWidth": 1.5},
 "encoding": {"x": {"field": "lo", "type": "quantitative", "scale": {"domain": [435.766, 563.766]}, "axis": {"orient": "bottom", "offset": -89.33, "values": [525,530,535,540,545,550,555,560], "tickSize": 8, "tickWidth": 2, "labels": false, "title": null, "zindex": 1}}, "x2": {"field": "hi"},
  "y": {"datum": 0, "type": "quantitative", "scale": {"domain": [-13.071, 70.339]}, "axis": {"orient": "left", "offset": -664, "values": [0,5,10,15,20,25,30], "tickSize": 8, "tickWidth": 2, "labels": false, "title": null, "zindex": 1}}, "y2": {"datum": 30}}},
{"data": {"name": "one"}, "mark": {"type": "point", "filled": false, "opacity": 1, "stroke": "#8c8c8c", "strokeWidth": 2.5, "strokeDash": [2.5, 3], "size": 9332,
  "shape": "M 0 -1 C 0.2664 -1 0.4824 -0.5523 0.4824 0 C 0.4824 0.5523 0.2664 1 0 1 C -0.2664 1 -0.4824 0.5523 -0.4824 0 C -0.4824 -0.5523 -0.2664 -1 0 -1 Z"},
 "encoding": {"x": {"datum": 542.78, "type": "quantitative", "scale": {"domain": [435.766, 563.766]}, "axis": null}, "y": {"datum": 22.13, "type": "quantitative", "scale": {"domain": [-13.071, 70.339]}, "axis": null}}},
{"data": {"name": "br"}, "mark": {"type": "point", "shape": "diamond", "filled": false, "opacity": 1, "stroke": "#000000", "strokeWidth": 2, "size": 80},
 "encoding": {"x": {"field": "c", "type": "quantitative", "scale": {"domain": [435.766, 563.766]}, "axis": null}, "y": {"field": "s", "type": "quantitative", "scale": {"domain": [-13.071, 70.339]}, "axis": null}}},
{"data": {"name": "one"}, "mark": {"type": "rect", "fillOpacity": 0, "stroke": "#000000", "strokeWidth": 3},
 "encoding": {"x": {"datum": 525, "type": "quantitative", "scale": {"domain": [435.766, 563.766]}, "axis": {"orient": "bottom", "offset": -81.33, "values": [525,530,535,540,545,550,555,560], "ticks": false, "labelPadding": 17.3, "labelBaseline": "middle", "labelFontSize": 12, "title": null, "zindex": 1}}, "x2": {"datum": 560},
  "y": {"datum": 0, "type": "quantitative", "scale": {"domain": [-13.071, 70.339]}, "axis": {"orient": "left", "offset": -656, "values": [0,5,10,15,20,25,30], "ticks": false, "labelPadding": 14, "labelAlign": "center", "labelFontSize": 12.5, "title": null, "zindex": 1}}, "y2": {"datum": 30}}},
{"data": {"name": "one"}, "mark": {"type": "text", "text": "Possible pairs of L′ and M′ genes", "fontSize": 15, "fontWeight": "bold", "color": "#111111", "align": "center", "baseline": "middle"},
 "encoding": {"x": {"datum": 543.43, "type": "quantitative", "scale": {"domain": [435.766, 563.766]}, "axis": null}, "y": {"datum": 38.36, "type": "quantitative", "scale": {"domain": [-13.071, 70.339]}, "axis": null}}},
{"data": {"name": "one"}, "mark": {"type": "text", "text": "(Merbs & Nathans, Nature 1992)", "fontSize": 15, "fontWeight": "bold", "color": "#111111", "align": "center", "baseline": "middle"},
 "encoding": {"x": {"datum": 543.77, "type": "quantitative", "scale": {"domain": [435.766, 563.766]}, "axis": null}, "y": {"datum": 35.4, "type": "quantitative", "scale": {"domain": [-13.071, 70.339]}, "axis": null}}},
{"data": {"name": "one"}, "mark": {"type": "text", "text": "Centre wavelength, λ", "fontSize": 14, "color": "#222222", "align": "right", "baseline": "middle"},
 "encoding": {"x": {"datum": 552.34, "type": "quantitative", "scale": {"domain": [435.766, 563.766]}, "axis": null}, "y": {"datum": -6.96, "type": "quantitative", "scale": {"domain": [-13.071, 70.339]}, "axis": null}}},
{"data": {"name": "one"}, "mark": {"type": "text", "text": "c", "fontSize": 12, "color": "#222222", "align": "left", "baseline": "middle", "dx": 1, "dy": 4},
 "encoding": {"x": {"datum": 552.34, "type": "quantitative", "scale": {"domain": [435.766, 563.766]}, "axis": null}, "y": {"datum": -6.96, "type": "quantitative", "scale": {"domain": [-13.071, 70.339]}, "axis": null}}},
{"data": {"name": "one"}, "mark": {"type": "text", "text": "δλ", "fontSize": 13, "color": "#222222", "align": "right", "baseline": "middle", "angle": 270},
 "encoding": {"x": {"datum": 520.65, "type": "quantitative", "scale": {"domain": [435.766, 563.766]}, "axis": null}, "y": {"datum": 14.41, "type": "quantitative", "scale": {"domain": [-13.071, 70.339]}, "axis": null}}},
{"data": {"name": "one"}, "mark": {"type": "text", "text": "max", "fontSize": 10, "color": "#222222", "align": "left", "baseline": "middle", "angle": 270, "dy": 4},
 "encoding": {"x": {"datum": 520.65, "type": "quantitative", "scale": {"domain": [435.766, 563.766]}, "axis": null}, "y": {"datum": 14.41, "type": "quantitative", "scale": {"domain": [-13.071, 70.339]}, "axis": null}}}
],
"resolve": {"axis": {"x": "independent", "y": "independent"}}
}
],
"resolve": {"scale": {"x": "independent", "y": "independent"}, "axis": {"x": "independent", "y": "independent"}}
}
